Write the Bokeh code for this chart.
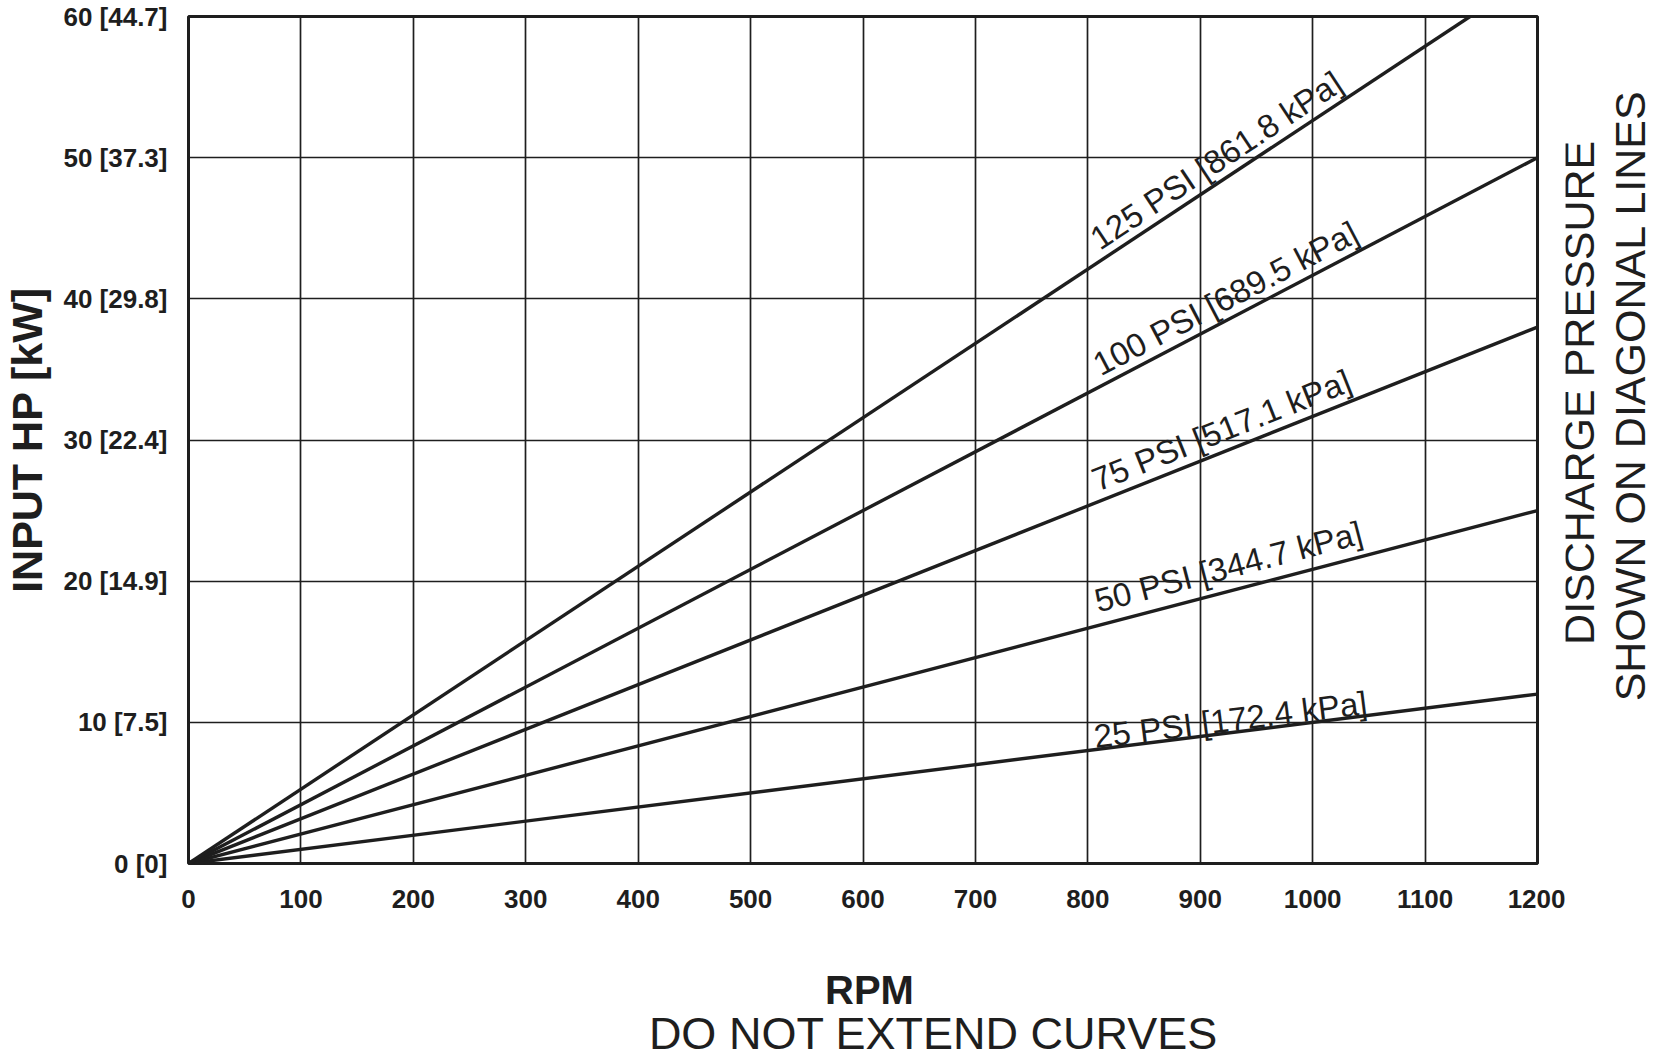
import math
from bokeh.plotting import figure
from bokeh.layouts import column, row
from bokeh.models import Range1d, FixedTicker, ColumnDataSource
from bokeh.core.properties import value
from bokeh.embed import file_html
from bokeh.resources import INLINE

# ---- data ----
psi_labels = ["25 PSI [172.4 kPa]", "50 PSI [344.7 kPa]", "75 PSI [517.1 kPa]",
              "100 PSI [689.5 kPa]", "125 PSI [861.8 kPa]"]
rpm_start = [0, 0, 0, 0, 0]
hp_start = [0, 0, 0, 0, 0]
rpm_end = [1200, 1200, 1200, 1200, 1140]
hp_end = [12, 25, 38, 50, 60]

rpm_ticks = [0, 100, 200, 300, 400, 500, 600, 700, 800, 900, 1000, 1100, 1200]
hp_ticks = [0, 10, 20, 30, 40, 50, 60]
kw_values = ["0", "7.5", "14.9", "22.4", "29.8", "37.3", "44.7"]

side_notes = ["DISCHARGE PRESSURE", "SHOWN ON DIAGONAL LINES"]
bottom_notes = ["RPM", "DO NOT EXTEND CURVES"]

# ---- layout / style ----
FW, FH = 1349, 847
LEFT, TOP, RIGHT, BOTTOM = 188, 16, 28, 80
W = 1662
MW, MH = LEFT + FW + RIGHT, TOP + FH + BOTTOM
BH = 113
INK = "#1e1e1e"
SANS = "Liberation Sans"
label_rpm = [807, 812, 812, 815, 815]   # where each line label starts
label_gap = [13, 24, 21, 20, 20]         # px between line and label baseline

p = figure(width=MW, height=MH, frame_width=FW, frame_height=FH, title=None,
           x_range=Range1d(0, 1200), y_range=Range1d(0, 60),
           output_backend="svg", toolbar_location=None,
           min_border_left=LEFT, min_border_top=TOP,
           min_border_right=RIGHT, min_border_bottom=BOTTOM)
p.background_fill_color = "white"
p.border_fill_color = "white"
p.outline_line_color = INK
p.outline_line_width = 3

p.xaxis.ticker = FixedTicker(ticks=rpm_ticks)
p.yaxis.ticker = FixedTicker(ticks=hp_ticks)
p.yaxis.major_label_overrides = {t: f"{t} [{k}]" for t, k in zip(hp_ticks, kw_values)}
for ax in (p.xaxis, p.yaxis):
    ax.axis_line_color = None
    ax.major_tick_line_color = None
    ax.minor_tick_line_color = None
    ax.major_tick_out = 0
    ax.major_tick_in = 0
    ax.minor_tick_out = 0
    ax.minor_tick_in = 0
    ax.major_label_text_color = INK
    ax.major_label_text_font = SANS
    ax.major_label_text_font_style = "bold"

p.xaxis.major_label_text_font_size = "26px"
p.xaxis.major_label_standoff = 26
p.yaxis.major_label_text_font_size = "26px"
p.yaxis.major_label_standoff = 21

p.yaxis.axis_label = "INPUT HP [kW]"
p.yaxis.axis_label_text_font = SANS
p.yaxis.axis_label_text_font_style = "bold"
p.yaxis.axis_label_text_font_size = "43px"
p.yaxis.axis_label_text_color = INK
p.yaxis.axis_label_standoff = 9

p.xgrid.ticker = FixedTicker(ticks=rpm_ticks)
p.ygrid.ticker = FixedTicker(ticks=hp_ticks)
for g in (p.xgrid, p.ygrid):
    g.grid_line_color = INK
    g.grid_line_width = 1.7
    g.grid_line_alpha = 1.0

# diagonal pressure lines
for xs0, ys0, xs1, ys1 in zip(rpm_start, hp_start, rpm_end, hp_end):
    p.line([xs0, xs1], [ys0, ys1], line_color=INK, line_width=3.4)

# labels along the lines
angles, ys, xo, yo = [], [], [], []
for xs1, ys1, lx, gap in zip(rpm_end, hp_end, label_rpm, label_gap):
    slope = ys1 / xs1
    a = math.atan((slope * FH / 60) / (FW / 1200))
    angles.append(a)
    ys.append(slope * lx)
    xo.append(-gap * math.sin(a))
    yo.append(-gap * math.cos(a))
src = ColumnDataSource(dict(x=label_rpm, y=ys, text=psi_labels, angle=angles, xo=xo, yo=yo))
p.text(x="x", y="y", text="text", angle="angle", x_offset="xo", y_offset="yo", source=src,
       text_font=value(SANS), text_font_size="33px", text_color=INK,
       text_align="left", text_baseline="alphabetic")


def blank(w, h):
    f = figure(width=w, height=h, title=None,
               x_range=Range1d(0, w), y_range=Range1d(h, 0),
               output_backend="svg", toolbar_location=None,
               x_axis_location=None, y_axis_location=None,
               min_border=0, min_border_left=0, min_border_right=0,
               min_border_top=0, min_border_bottom=0)
    f.outline_line_color = None
    f.grid.visible = False
    f.background_fill_color = "white"
    f.border_fill_color = "white"
    return f


# right-side note, two lines reading bottom to top
SW = W - MW
s = blank(SW, MH)
s.text(x=[1578 - MW, 1629 - MW], y=[419, 422], text=side_notes,
       angle=math.pi / 2, text_font=value(SANS), text_font_size="43px",
       text_color=INK, text_align="center", text_baseline="middle")

# bottom notes
b = blank(W, BH)
b.text(x=[869, 933], y=[46, 90], text=bottom_notes,
       text_font=value(SANS), text_font_size=["40px", "45px"],
       text_font_style=["bold", "normal"],
       text_color=INK, text_align="center", text_baseline="alphabetic")

layout = column(row(p, s, spacing=0), b, spacing=0)
open("out.html", "w").write(file_html(layout, INLINE))
